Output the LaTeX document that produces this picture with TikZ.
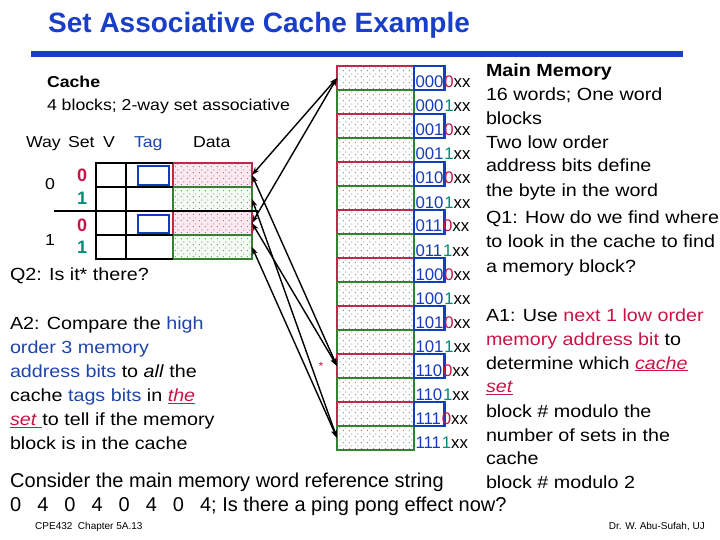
\documentclass[tikz,border=0pt]{standalone}
\usepackage{fontspec}
\setmainfont{Liberation Sans}[FakeStretch=1.12]
\newfontfamily\plainfont{Liberation Sans}
\usetikzlibrary{arrows.meta,patterns.meta}
\definecolor{titleblue}{RGB}{25,62,200}
\definecolor{cred}{RGB}{200,20,70}
\definecolor{cteal}{RGB}{0,140,120}
\definecolor{bred}{RGB}{190,40,75}
\definecolor{bgreen}{RGB}{50,130,50}
\definecolor{tagblue}{RGB}{20,60,190}
\definecolor{tblue}{RGB}{30,70,170}
\definecolor{pinkfill}{RGB}{255,232,240}
\definecolor{greenfill}{RGB}{244,252,244}
\tikzdeclarepattern{
  name=sparsedots,
  type=uncolored,
  bounding box={(0pt,0pt) and (6pt,6pt)},
  tile size={(6pt,6pt)},
  code={
    \pgfpathcircle{\pgfpoint{1.5pt}{1.5pt}}{0.6pt}
    \pgfpathcircle{\pgfpoint{4.5pt}{4.5pt}}{0.6pt}
    \pgfusepath{fill}
  }
}
\tikzset{
  txt/.style={anchor=base west, inner sep=0pt, outer sep=0pt, font=\fontsize{17.6}{24}\selectfont},
  ctxt/.style={anchor=base west, inner sep=0pt, outer sep=0pt, font=\fontsize{15.8}{20}\selectfont},
  addr/.style={anchor=base west, inner sep=0pt, outer sep=0pt, font=\plainfont\fontsize{16.8}{20}\selectfont},
  setlbl/.style={anchor=base west, inner sep=0pt, outer sep=0pt, font=\plainfont\bfseries\fontsize{18}{20}\selectfont},
  cell/.style={draw, line width=1.8pt, inner sep=0pt, outer sep=0pt, pattern=sparsedots, pattern color=black!70},
  memred/.style={cell, draw=bred, minimum width=77pt, minimum height=24pt, preaction={fill=white}},
  memgreen/.style={cell, draw=bgreen, minimum width=77pt, minimum height=24pt, preaction={fill=white}},
  cachered/.style={cell, draw=bred, minimum width=79pt, minimum height=24pt, preaction={fill=pinkfill}},
  cachegreen/.style={cell, draw=bgreen, minimum width=79pt, minimum height=24pt, preaction={fill=greenfill}},
  tagbox/.style={draw=tagblue, line width=2.4pt},
  tbl/.style={draw=black, line width=1.6pt},
  link/.style={line width=1.4pt, {Stealth[length=8pt,width=5.5pt]}-{Stealth[length=8pt,width=5.5pt]}},
}
\begin{document}
\begin{tikzpicture}[x=1pt,y=-1pt]
\useasboundingbox (0,0) rectangle (720,540);
\fill[white] (0,0) rectangle (720,540);

% title
\node[anchor=base west, inner sep=0pt, text=titleblue, font=\plainfont\bfseries\fontsize{28}{30}\selectfont] (title) at (48,33) {Set Associative Cache Example};
\fill[titleblue] (31,51) rectangle (683,57);

% cache description
\node[ctxt, font=\bfseries\fontsize{15.8}{20}\selectfont] (cachehd) at (47,88) {Cache};
\node[ctxt] (cachedesc) at (47,111) {4 blocks; 2-way set associative};
\node[ctxt] (hway) at (26,148) {Way};
\node[ctxt] (hset) at (68,148) {Set};
\node[ctxt] (hv) at (103,148) {V};
\node[ctxt, text=tblue] (htag) at (134,148) {Tag};
\node[ctxt] (hdata) at (193,148) {Data};

% way / set labels
\node[ctxt] (way0) at (45,190) {0};
\node[ctxt] (way1) at (45,245) {1};
\node[setlbl, text=cred] (s00) at (77,182) {0};
\node[setlbl, text=cteal] (s01) at (77,205) {1};
\node[setlbl, text=cred] (s10) at (77,232) {0};
\node[setlbl, text=cteal] (s11) at (77,254) {1};

% cache table
\node[cachered] (c0) at (212.5,175) {};
\node[cachegreen] (c1) at (212.5,199) {};
\node[cachered] (c2) at (212.5,223) {};
\node[cachegreen] (c3) at (212.5,247) {};
\draw[tbl] (173,163) -- (96,163) -- (96,259) -- (173,259);
\draw[tbl] (96,187) -- (173,187);
\draw[tbl] (96,235) -- (173,235);
\draw[tbl] (126,163) -- (126,259);
\draw[line width=2.6pt] (54,211) -- (258,211);
\draw[tagbox] (138,166) rectangle (169,185);
\draw[tagbox] (138,215) rectangle (169,233);

% main memory cells
\foreach \i in {0,...,15}{
  \pgfmathtruncatemacro\pp{mod(\i,2)}
  \ifnum\pp=0
    \node[memred] (m\i) at (375.5,{78+24*\i}) {};
  \else
    \node[memgreen] (m\i) at (375.5,{78+24*\i}) {};
  \fi
}
\foreach \i/\hi/\lo in {0/000/0,1/000/1,2/001/0,3/001/1,4/010/0,5/010/1,6/011/0,7/011/1,
                        8/100/0,9/100/1,10/101/0,11/101/1,12/110/0,13/110/1,14/111/0,15/111/1}{
  \ifnum\lo=0
    \draw[tagbox] (414,{66+24*\i}) rectangle (444.5,{90+24*\i});
    \node[addr] (a\i) at (415.5,{88+24*\i}) {\textcolor{tagblue}{\hi}\kern0.8pt\textcolor{cred}{\lo}xx};
  \else
    \node[addr] (a\i) at (415.5,{88+24*\i}) {\textcolor{tagblue}{\hi}\kern0.8pt\textcolor{cteal}{\lo}xx};
  \fi
}
\node[text=cred, font=\plainfont\fontsize{12}{12}\selectfont, inner sep=0pt] (star) at (321,366) {*};

% connectors
\draw[link] (c0.east) -- (m0.west);
\draw[link] (c2.east) -- (m0.west);
\draw[link] (c0.east) -- (m12.west);
\draw[link] (c2.east) -- (m12.west);
\draw[link] (c1.east) -- (m15.west);
\draw[link] (c3.east) -- (m15.west);

% right column text
\node[txt, font=\bfseries\fontsize{17.6}{24}\selectfont] (mmhd) at (486,77) {Main Memory};
\node[txt] (r1) at (486,100.5) {16 words; One word};
\node[txt] (r2) at (486,124.5) {blocks};
\node[txt] (r3) at (486,148.5) {Two low order};
\node[txt] (r4) at (486,172) {address bits define};
\node[txt] (r5) at (486,196.5) {the byte in the word};
\node[txt] (r6) at (486,223) {Q1: How do we find where};
\node[txt] (r7) at (486,247.5) {to look in the cache to find};
\node[txt] (r8) at (486,272) {a memory block?};

\node[txt] (a1l1) at (486,321) {A1: Use \textcolor{cred}{next 1 low order}};
\node[txt] (a1l2) at (486,345) {\textcolor{cred}{memory address bit} to};
\node[txt] (a1l3) at (486,369) {determine which \textcolor{cred}{\underline{\textit{cache}}}};
\node[txt] (a1l4) at (486,392.5) {\textcolor{cred}{\underline{\textit{set}}}};
\node[txt] (a1l5) at (486,417) {block \# modulo the};
\node[txt] (a1l6) at (486,441) {number of sets in the};
\node[txt] (a1l7) at (486,464.5) {cache};
\node[txt] (a1l8) at (486,488.5) {block \# modulo 2};

% left texts
\node[txt] (q2) at (10,280) {Q2: Is it* there?};
\node[txt] (a2l1) at (10,329.5) {A2: Compare the \textcolor{tblue}{high}};
\node[txt] (a2l2) at (10,353.5) {\textcolor{tblue}{order 3 memory}};
\node[txt] (a2l3) at (10,377.5) {\textcolor{tblue}{address bits} to \textit{all} the};
\node[txt] (a2l4) at (10,401.5) {cache \textcolor{tblue}{tags bits} in \textcolor{cred}{\underline{\textit{the}}}};
\node[txt] (a2l5) at (10,425.5) {\textcolor{cred}{\underline{\textit{set}\ }}to tell if the memory};
\node[txt] (a2l6) at (10,449.5) {block is in the cache};

% bottom
\node[anchor=base west, inner sep=0pt, font=\plainfont\fontsize{20}{24}\selectfont] (cons) at (10,487) {Consider the main memory word reference string};
\node[anchor=base west, inner sep=0pt, font=\plainfont\fontsize{20}{24}\selectfont] (refs) at (10,511)
  {0\hspace{16pt}4\hspace{16pt}0\hspace{16pt}4\hspace{16pt}0\hspace{16pt}4\hspace{16pt}0\hspace{16pt}4; Is there a ping pong effect now?};
\node[anchor=base west, inner sep=0pt, font=\plainfont\fontsize{10}{12}\selectfont] (foot1) at (35,529) {CPE432\ \ Chapter 5A.13};
\node[anchor=base east, inner sep=0pt, font=\plainfont\fontsize{10}{12}\selectfont] (foot2) at (705,529) {Dr. W. Abu-Sufah, UJ};
\end{tikzpicture}
\end{document}
